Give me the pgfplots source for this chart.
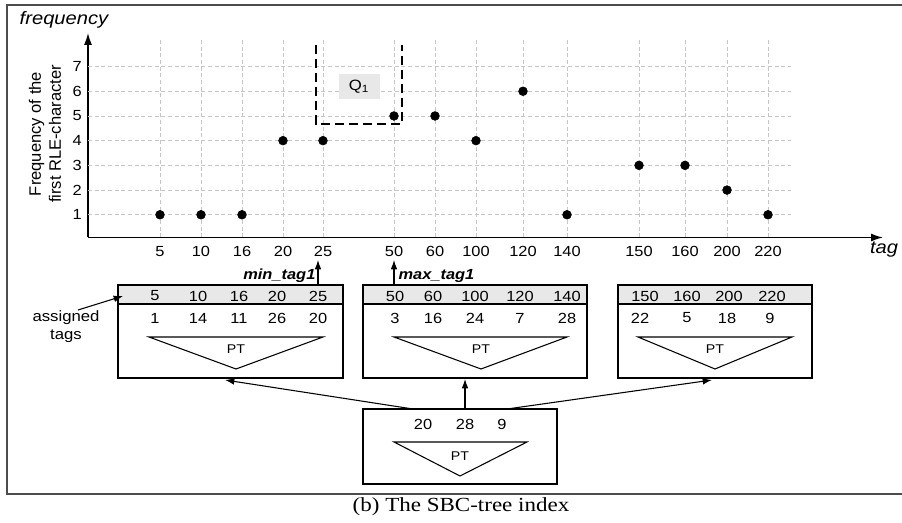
\documentclass[border=0pt]{standalone}
\usepackage{pgfplots}
\pgfplotsset{compat=1.18}
\usepackage{pgfplotstable}
\usepackage{graphicx}
\usepackage{fontspec}
\setmainfont{Liberation Sans}
\newfontfamily\capfont{Liberation Serif}
\usetikzlibrary{arrows.meta}

% the reference is stretched sideways a little
\newcommand\sx[1]{\scalebox{1.12}[1]{#1}}

\pgfplotstableread{
pos tag freq
160 5 1
201 10 1
242 16 1
283 20 4
323 25 4
394 50 5
435 60 5
476 100 4
523 120 6
567 140 1
639 150 3
685 160 3
727 200 2
768 220 1
}\sbcdata

\begin{document}
\begin{tikzpicture}
\begin{axis}[
  at={(66pt,-178.125pt)}, anchor=south west,
  scale only axis, width=596.25pt, height=153.4pt,
  xmin=88, xmax=883, ymin=0.08, ymax=8.36,
  axis lines=left,
  every outer x axis line/.append style={-{Latex[length=9pt,width=6pt]}},
  every outer y axis line/.append style={-{Latex[length=9pt,width=6pt]}},
  axis line style={line width=1.1pt},
  tick style={draw=none},
  xtick={160,201,242,283,323,394,435,476,523,567,639,685,727,768},
  xticklabels={\sx{5},\sx{10},\sx{16},\sx{20},\sx{25},\sx{50},\sx{60},\sx{100},\sx{120},\sx{140},\sx{150},\sx{160},\sx{200},\sx{220}},
  ytick={1,...,7},
  yticklabels={\sx{1},\sx{2},\sx{3},\sx{4},\sx{5},\sx{6},\sx{7}},
  tick label style={font=\fontsize{11}{12}\selectfont},
  xticklabel style={yshift=-1pt},
  yticklabel style={xshift=1pt},
  clip=false,
]
\foreach \p in {160,201,242,283,323,394,435,476,523,567,639,685,727,768}
  {\edef\tmp{\noexpand\draw[gray!45, line width=0.6pt, dash pattern=on 3pt off 2pt]
     (axis cs:\p,0.08) -- (axis cs:\p,8.16);}\tmp}
\foreach \f in {1,...,7}
  {\edef\tmp{\noexpand\draw[gray!45, line width=0.6pt, dash pattern=on 3pt off 2pt]
     (axis cs:88,\f) -- (axis cs:791,\f);}\tmp}
\addplot[only marks, mark=*, mark size=3.3pt, black] table[x=pos, y=freq] {\sbcdata};
\end{axis}

\begin{scope}[x=0.75pt, y=-0.75pt]
\useasboundingbox (0,0) rectangle (902,523);

% outer frame
\draw[gray!60!black, line width=1.4pt] (905,5) -- (7,5) -- (7,494) -- (905,494);

% axis names
\node[font=\fontsize{13.5}{15}\selectfont\itshape] at (64,20) {\sx{frequency}};
\node[font=\fontsize{13.5}{15}\selectfont\itshape] at (884,250) {\sx{tag}};
\node[rotate=90, align=center, font=\fontsize{12.4}{15}\selectfont] at (45,134)
  {Frequency of the\\first RLE-character};

% query Q1
\draw[black, line width=1.3pt, dash pattern=on 7pt off 3.5pt] (316,45) -- (316,124) -- (402,124) -- (402,45);
\node[fill=gray!18, minimum width=30.75pt, minimum height=18.75pt, inner sep=0pt,
  font=\fontsize{11.2}{13}\selectfont] at (359,87) {\sx{Q\textsubscript{1}}};

\tikzset{num/.style={font=\fontsize{11}{12}\selectfont},
         pt/.style={font=\fontsize{9.5}{11}\selectfont},
         arr/.style={line width=0.8pt, -{Latex[length=7pt,width=5pt]}}}

% leaf 1
\fill[gray!18] (118,285) rectangle (343,304);
\draw[line width=1pt] (118,285) rectangle (343,378) (118,304) -- (343,304);
\foreach \x/\a/\b in {155/5/1, 198/10/14, 239/16/11, 277/20/26, 318/25/20}
  {\node[num] at (\x,296) {\sx{\a}}; \node[num] at (\x,318) {\sx{\b}};}
\draw[line width=0.8pt] (149,337) -- (323,337) -- (236,369) -- cycle;
\node[pt] at (236,349) {\sx{PT}};

% leaf 2
\fill[gray!18] (363,285) rectangle (587,304);
\draw[line width=1pt] (363,285) rectangle (587,378) (363,304) -- (587,304);
\foreach \x/\a/\b in {395/50/3, 433/60/16, 475/100/24, 520/120/7, 567/140/28}
  {\node[num] at (\x,296) {\sx{\a}}; \node[num] at (\x,318) {\sx{\b}};}
\draw[line width=0.8pt] (394,337) -- (567,337) -- (481,369) -- cycle;
\node[pt] at (481,349) {\sx{PT}};

% leaf 3
\fill[gray!18] (618,285) rectangle (812,304);
\draw[line width=1pt] (618,285) rectangle (812,378) (618,304) -- (812,304);
\foreach \x/\a in {645/150, 687/160, 729/200, 772/220}
  {\node[num] at (\x,296) {\sx{\a}};}
\foreach \x/\b in {640/22, 687/5, 727/18, 770/9}
  {\node[num] at (\x,318) {\sx{\b}};}
\draw[line width=0.8pt] (638,337) -- (792,337) -- (715,369) -- cycle;
\node[pt] at (715,349) {\sx{PT}};

% root
\draw[line width=1pt] (363,409) rectangle (557,484);
\foreach \x/\a in {423/20, 465/28, 502/9}
  {\node[num] at (\x,424) {\sx{\a}};}
\draw[line width=0.8pt] (394,442) -- (527,442) -- (460,476) -- cycle;
\node[pt] at (460,456) {\sx{PT}};

\draw[arr] (413,409) -- (225,380);
\draw[arr] (465,409) -- (465,379);
\draw[arr] (507,409) -- (712,380);

% min / max tags
\draw[arr] (318,285) -- (318,260);
\node[anchor=east, font=\fontsize{11}{13}\selectfont\bfseries\itshape, inner sep=1pt] at (317,276) {\sx{min\_tag1}};
\draw[arr] (394,285) -- (394,260);
\node[anchor=west, font=\fontsize{11}{13}\selectfont\bfseries\itshape, inner sep=1pt] at (397,276) {\sx{max\_tag1}};

% assigned tags
\node[align=center, font=\fontsize{11.2}{13.5}\selectfont] at (66,327) {\sx{assigned}\\\sx{tags}};
\draw[arr] (78,310) -- (123,296);

% caption
\node[font=\capfont\fontsize{15}{17}\selectfont] at (461,507) {\scalebox{1.15}[1]{(b) The SBC-tree index}};
\end{scope}
\end{tikzpicture}
\end{document}
